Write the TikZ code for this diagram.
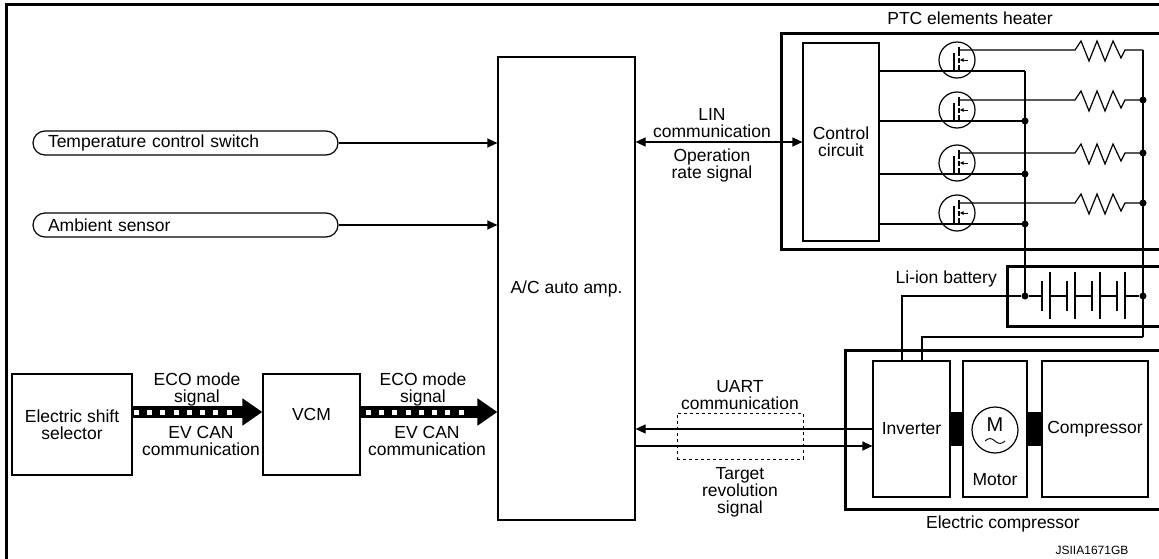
\documentclass[tikz,border=0pt]{standalone}
\usepackage{fontspec}
\setmainfont{Liberation Sans}
\usetikzlibrary{arrows.meta}
\begin{document}
\begin{tikzpicture}[x=1pt,y=-1pt,
  font=\fontsize{17.5}{17}\selectfont,
  wire/.style={line width=1.2pt},
  box/.style={draw, line width=1.2pt, inner sep=0pt, align=center},
  frame/.style={draw, line width=3pt, inner sep=0pt},
  lbl/.style={inner sep=0pt, align=center},
  dot/.style={circle, fill, inner sep=0pt, minimum size=7pt},
  arr/.style={-{Triangle[length=10pt,width=9pt]}, line width=1.2pt},
  dblarr/.style={{Triangle[length=10pt,width=9pt]}-{Triangle[length=10pt,width=9pt]}, line width=1.2pt},
  pill/.style={draw, line width=1.2pt, rounded corners=12pt, minimum height=24pt, inner xsep=15pt, inner ysep=0pt, text width=275pt, align=left},
  fat/.style={line width=12pt, -{Triangle[length=20pt,width=26pt]}},
  fatdash/.style={white, line width=5pt, dash pattern=on 5pt off 8.3pt}
]
\useasboundingbox (0,0) rectangle (1159,559);

% outer border (top and left)
\draw[line width=3pt] (6,559) -- (6,5) -- (1162,5);

% A/C auto amp
\node[box, minimum width=137pt, minimum height=463pt] (ac) at (566.5,288.5) {A/C auto amp.};

% inputs
\node[pill] (tcs) at (185.5,143) {Temperature control switch};
\node[pill] (amb) at (185.5,225) {Ambient sensor};
\draw[arr] (tcs.east) -- (tcs.east -| ac.west);
\draw[arr] (amb.east) -- (amb.east -| ac.west);

% bottom-left chain
\node[box, minimum width=120pt, minimum height=101pt] (ess) at (72,424.5) {Electric shift\\selector};
\node[box, minimum width=97pt, minimum height=101pt] (vcm) at (311.5,424.5) {};
\node[lbl] (vcmlbl) at (311.5,414) {VCM};
\coordinate (e1) at ([yshift=12.5pt]ess.east);
\coordinate (v1) at ([yshift=12.5pt]vcm.west);
\coordinate (v2) at ([yshift=12.5pt]vcm.east);
\coordinate (a1) at (v2 -| ac.west);
\draw[fat] (e1) -- (v1);
\draw[fatdash] ([xshift=1pt]e1) -- ([xshift=-30pt]v1);
\draw[fat] (v2) -- (a1);
\draw[fatdash] ([xshift=5pt]v2) -- ([xshift=-32pt]a1);
\node[lbl] at (197,389) {ECO mode\\signal};
\node[lbl] at (201,441) {EV CAN\\communication};
\node[lbl] at (423,389) {ECO mode\\signal};
\node[lbl] at (427,441) {EV CAN\\communication};

% PTC elements heater
\node[frame, minimum width=381pt, minimum height=216pt, anchor=north west] (ptc) at (780,32) {};
\node[lbl] at (970,18) {PTC elements heater};
\node[box, minimum width=76pt, minimum height=198pt] (cc) at (841,142) {Control\\circuit};
\draw[dblarr] (cc.west -| ac.east) -- (cc.west);
\node[lbl] at (712,123) {LIN\\communication};
\node[lbl] at (712,165) {Operation\\rate signal};

\foreach \cy in {60,110,163,213} {
  % control line to left bus
  \draw[wire] (cc.east |- 0,{\cy+11}) -- (1025,{\cy+11});
  % MOSFET symbol
  \draw[wire] (957,\cy) circle (18pt);
  \draw[line width=1.6pt] (954,{\cy-7}) -- (954,{\cy+11});
  \draw[wire] (959,{\cy-13}) -- (959,{\cy-4});
  \draw[wire] (959,{\cy-2}) -- (959,{\cy+3});
  \draw[wire] (959,{\cy+5}) -- (959,{\cy+12});
  \draw[line width=0.9pt, -{Triangle[length=3.5pt,width=3.5pt]}] (968,\cy) -- (960,\cy);
  % drain with resistor to right bus
  \draw[wire] (959,{\cy-10}) -- (1075,{\cy-10}) -- (1081,{\cy-19}) -- (1089,{\cy+1})
     -- (1097,{\cy-19}) -- (1105,{\cy+1}) -- (1113,{\cy-19}) -- (1121,{\cy-2}) -- (1125,{\cy-10}) -- (1143,{\cy-10});
}
% buses
\draw[wire] (1025,71) -- (1025,296);
\draw[wire] (1143,50) -- (1143,337);
\foreach \y in {121,174,224} \node[dot] at (1025,\y) {};
\foreach \y in {100,153,203} \node[dot] at (1143,\y) {};

% Li-ion battery
\node[frame, minimum width=155pt, minimum height=60pt, anchor=north west] (bat) at (1006,265) {};
\node[lbl, anchor=east] at (997,279) {Li-ion battery};
\node[dot] (bl) at (1025,296) {};
\node[dot] (br) at (1143,296) {};
\foreach \x in {1042,1067,1092,1117} {
  \draw[wire] (\x,281) -- (\x,311);
  \draw[wire] ({\x+8},272) -- ({\x+8},319);
}
\draw[wire] (bl) -- (1042,296);
\draw[wire] (1050,296) -- (1067,296);
\draw[wire] (1075,296) -- (1092,296);
\draw[wire] (1100,296) -- (1117,296);
\draw[wire] (1125,296) -- (br);

% Electric compressor
\node[frame, minimum width=317pt, minimum height=159pt, anchor=north west] (ec) at (844,349) {};
\node[lbl] at (1003,524) {Electric compressor};
\node[box, minimum width=77pt, minimum height=136pt] (inv) at (911.5,429) {Inverter};
\node[box, minimum width=64pt, minimum height=136pt] (mot) at (995,429) {};
\node[box, minimum width=106pt, minimum height=136pt] (cmp) at (1095,429) {Compressor};
\fill (inv.east |- 0,412) rectangle (mot.west |- 0,446);
\fill (mot.east |- 0,412) rectangle (cmp.west |- 0,446);
\node[draw, circle, wire, minimum size=46pt, inner sep=0pt] (mc) at (995,430) {};
\node[lbl, font=\fontsize{20}{20}\selectfont] at (995,425) {M};
\draw[line width=0.9pt] (985,441) sin (990,438.5) cos (995,441) sin (1000,443.5) cos (1005,441);
\node[lbl] at (995,480) {Motor};

% battery to inverter
\draw[wire] (bl) -- (902,296) -- (902,0 |- inv.north);
\draw[wire] (1143,337) -- (922,337) -- (922,0 |- inv.north);

% UART
\draw[arr] (inv.west) -- (inv.west -| ac.east);
\draw[arr] ([yshift=-17pt]inv.west -| ac.east) -- ([yshift=-17pt]inv.west);
\node[draw, dashed, line width=1pt, minimum width=126pt, minimum height=46pt] (uart) at (740,436) {};
\node[lbl] at (740,395) {UART\\communication};
\node[lbl] at (740,492) {Target\\revolution\\signal};

\node[lbl, font=\fontsize{12}{12}\selectfont] at (1092,550) {JSIIA1671GB};
\end{tikzpicture}
\end{document}
